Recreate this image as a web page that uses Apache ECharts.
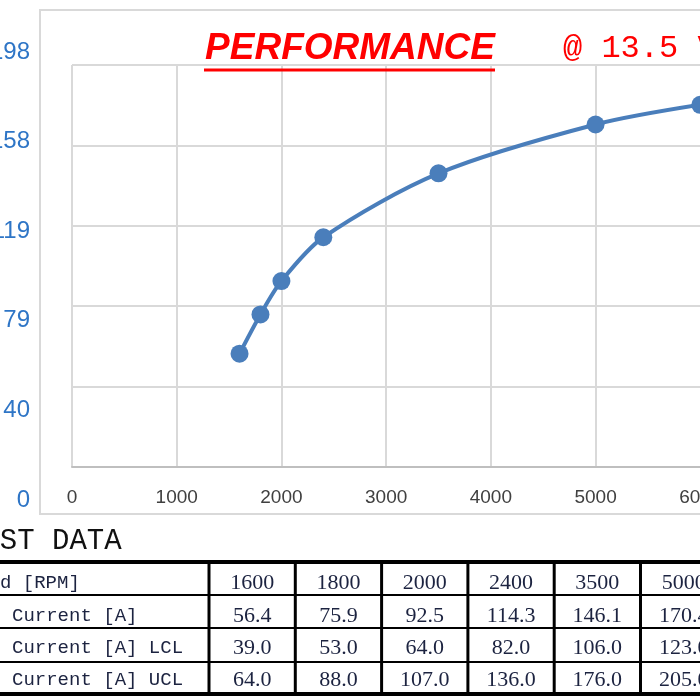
<!DOCTYPE html>
<html><head><meta charset="utf-8">
<script src="https://cdn.jsdelivr.net/npm/echarts@6/dist/echarts.min.js"></script>
<style>html,body{margin:0;padding:0;background:#fff}#c{width:700px;height:700px}</style>
</head><body><div id="c"></div>
<script>
// ---- data ----
const speeds = [1600, 1800, 2000, 2400, 3500, 5000, 6000];
const current = [56.4, 75.9, 92.5, 114.3, 146.1, 170.4, 180.2];
const currentLCL = [39.0, 53.0, 64.0, 82.0, 106.0, 123.0];
const currentUCL = [64.0, 88.0, 107.0, 136.0, 176.0, 205.0];
const leftAxisLabels = ['0', '40', '79', '119', '158', '198'];
const rowLabels = ['Speed [RPM]', 'Output Current [A]', 'Output Current [A] LCL', 'Output Current [A] UCL'];
const titleText = 'PERFORMANCE';
const subTitleText = '@ 13.5 V';
const tableTitle = 'TEST DATA';

// ---- layout / style ----
const gridColor = '#d9d9d9';
const lineColor = '#4A7EBB';
const monoFont = 'Liberation Mono';
const numFont = 'Liberation Serif';
const colLeft = 209, colW = 86.3;
const rowLines = [562, 595, 628, 662, 694];
const rowCenters = [583, 616, 648, 680];
const charW = 0.6 * 19;

const graphics = [];
graphics.push({type: 'rect', z: 0, shape: {x: 40, y: 10, width: 720, height: 504},
  style: {fill: 'none', stroke: gridColor, lineWidth: 2}});
graphics.push({type: 'text', x: 350, y: 49, z: 10,
  style: {text: titleText, fontSize: 37, fontWeight: 'bold', fontStyle: 'italic', fontFamily: 'Liberation Sans',
    fill: '#ff0000', align: 'center', verticalAlign: 'middle'}});
graphics.push({type: 'line', z: 10, shape: {x1: 204, y1: 70, x2: 495, y2: 70},
  style: {stroke: '#ff0000', lineWidth: 3}});
graphics.push({type: 'text', x: 563, y: 49, z: 10,
  style: {text: subTitleText, fontSize: 32, fontFamily: monoFont, fill: '#ff0000', align: 'left', verticalAlign: 'middle'}});
graphics.push({type: 'text', x: -35, y: 541, z: 10,
  style: {text: tableTitle, fontSize: 29, fontFamily: monoFont, fill: '#111', align: 'left', verticalAlign: 'middle'}});

// table lines
rowLines.forEach((y, i) => {
  const w = (i === 0 || i === rowLines.length - 1) ? 4 : 2;
  graphics.push({type: 'line', z: 10, shape: {x1: -10, y1: y, x2: 720, y2: y}, style: {stroke: '#000', lineWidth: w}});
});
for (let k = 0; k <= currentLCL.length; k++) {
  const x = colLeft + k * colW;
  graphics.push({type: 'line', z: 10, shape: {x1: x, y1: rowLines[0], x2: x, y2: rowLines[rowLines.length - 1]},
    style: {stroke: '#000', lineWidth: 3}});
}
// row labels
rowLabels.forEach((t, r) => {
  const x = r === 0 ? -4 * charW : 12 - 7 * charW;
  graphics.push({type: 'text', x: x, y: rowCenters[r], z: 11,
    style: {text: t, fontSize: 19, fontFamily: monoFont, fill: '#1c2340', align: 'left', verticalAlign: 'middle'}});
});
// cells
const rows = [speeds.map(String), current.map(v => v.toFixed(1)), currentLCL.map(v => v.toFixed(1)), currentUCL.map(v => v.toFixed(1))];
rows.forEach((row, r) => {
  row.forEach((t, i) => {
    if (i >= currentLCL.length) return;
    graphics.push({type: 'text', x: colLeft + i * colW + colW / 2, y: rowCenters[r], z: 11,
      style: {text: t, fontSize: 22, fontFamily: numFont, fill: '#1c2340', align: 'center', verticalAlign: 'middle'}});
  });
});

const chart = echarts.init(document.getElementById('c'), null, {renderer: 'canvas'});
chart.setOption({
  animation: false,
  backgroundColor: '#fff',
  grid: [
    {left: 72, top: 65, right: -105, bottom: 233, outerBoundsMode: 'none', containLabel: false},
    {left: 35, top: 52, width: 10, bottom: 200, outerBoundsMode: 'none', containLabel: false}
  ],
  xAxis: [
    {gridIndex: 0, type: 'value', min: 0, max: 7000, interval: 1000,
      axisLine: {show: true, lineStyle: {color: '#bfbfbf', width: 2}},
      axisTick: {show: false},
      axisLabel: {fontSize: 19, color: '#404040', margin: 21, fontFamily: 'Liberation Sans', formatter: v => String(v)},
      splitLine: {show: true, lineStyle: {color: gridColor, width: 2}}},
    {gridIndex: 1, type: 'value', show: false, min: 0, max: 1}
  ],
  yAxis: [
    {gridIndex: 0, type: 'value', min: 0, max: 200, interval: 40,
      axisLine: {show: false}, axisTick: {show: false}, axisLabel: {show: false},
      splitLine: {show: true, lineStyle: {color: gridColor, width: 2}}},
    {gridIndex: 1, type: 'value', min: 0, max: 5, interval: 1,
      axisLine: {show: false}, axisTick: {show: false}, splitLine: {show: false},
      axisLabel: {formatter: v => leftAxisLabels[v], color: '#2E75C6', fontSize: 24, margin: 5,
        fontFamily: 'Liberation Sans', align: 'right'}}
  ],
  series: [{
    type: 'line', xAxisIndex: 0, yAxisIndex: 0,
    data: speeds.map((s, i) => [s, current[i]]),
    smooth: 0.3, symbol: 'circle', symbolSize: 18, clip: false,
    lineStyle: {color: lineColor, width: 4}, itemStyle: {color: lineColor}
  }],
  graphic: graphics
});
</script></body></html>
